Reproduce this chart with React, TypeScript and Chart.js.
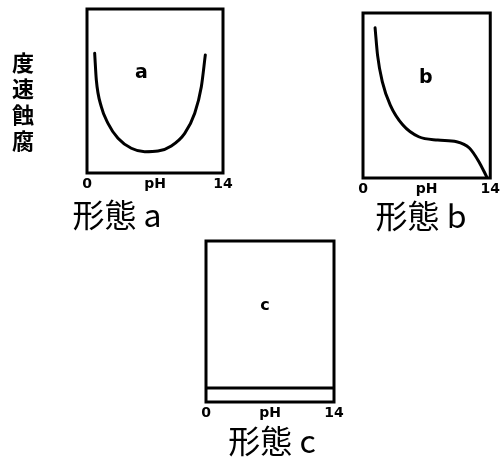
import React, { useEffect, useRef } from "react";
import { Chart, registerables } from "chart.js";
Chart.register(...registerables);

// ---- data ----
const X_TICKS = [0, 7, 14];
const X_TICK_LABELS = ["0", "pH", "14"];
const Y_TITLE = "腐蝕速度";

const A_PH = [0.79, 0.96, 1.47, 2.16, 3.19, 4.56, 5.94, 7.31, 8.68, 10.06, 11.09, 11.77, 12.18];
const A_RATE = [7.3, 5.67, 4.04, 3.03, 2.12, 1.51, 1.3, 1.34, 1.65, 2.42, 3.64, 5.26, 7.2];
const B_PH = [1.33, 1.6, 2.12, 3.0, 4.39, 6.13, 8.22, 10.3, 11.7, 12.75, 13.6];
const B_RATE = [9.1, 7.45, 5.84, 4.42, 3.21, 2.5, 2.3, 2.2, 1.82, 0.99, 0.08];
const C_PH = [0, 14];
const C_RATE = [0.87, 0.87];

const PANEL_TITLES = ["形態 a", "形態 b", "形態 c"];
const PANEL_LETTERS = ["a", "b", "c"];
const LETTER_PH = [5.6, 6.9, 6.45];
const LETTER_RATE = [6.1, 6.04, 6.0];

const SERIES_PH = [A_PH, B_PH, C_PH];
const SERIES_RATE = [A_RATE, B_RATE, C_RATE];

// ---- layout ----
type Layout = {
  left: number; top: number; w: number; h: number;
  pl: number; pr: number; pt: number; chartBottom: number;
  titleX: number; titleY: number; letterFont: string; yTitle: boolean;
};
const LAYOUTS: Layout[] = [
  { left: 0, top: 0, w: 250, h: 240, pl: 87, pr: 27, pt: 9, chartBottom: 173, titleX: 117, titleY: 215, letterFont: "bold 19px 'DejaVu Sans'", yTitle: true },
  { left: 250, top: 0, w: 253, h: 240, pl: 113, pr: 6, pt: 13, chartBottom: 178, titleX: 171, titleY: 216, letterFont: "bold 19px 'DejaVu Sans'", yTitle: false },
  { left: 180, top: 225, w: 180, h: 240, pl: 26, pr: 26, pt: 16, chartBottom: 177, titleX: 92, titleY: 216, letterFont: "bold 16px 'DejaVu Sans'", yTitle: false },
];
const TICK_SIZE = 14;
const TICK_PAD = 3;
const TITLE_FONT = "32px 'Noto Sans CJK JP'";

const framePlugin = {
  id: "frame",
  afterDatasetsDraw(chart: any, _args: any, opts: any) {
    const { ctx, chartArea } = chart;
    const { left, top, right, bottom } = chartArea;
    ctx.save();
    ctx.strokeStyle = "#000";
    ctx.lineWidth = 3;
    ctx.strokeRect(left, top, right - left, bottom - top);
    ctx.fillStyle = "#000";
    ctx.textAlign = "center";
    ctx.textBaseline = "middle";
    ctx.font = opts.letterFont;
    ctx.fillText(
      opts.letter,
      chart.scales.x.getPixelForValue(opts.lx),
      chart.scales.y.getPixelForValue(opts.ly)
    );
    ctx.font = TITLE_FONT;
    ctx.fillText(opts.title, opts.titleX, opts.titleY);
    if (opts.yTitle) {
      ctx.font = "bold 22px 'Noto Sans CJK JP'";
      const chars = Array.from(Y_TITLE as string);
      const cx = left - 64;
      const mid = (top + bottom) / 2 + 11;
      const step = 26;
      const n = chars.length;
      chars.forEach((ch, i) => {
        // bottom-to-top, upright characters
        const y = mid + ((n - 1) / 2 - i) * step;
        ctx.fillText(ch, cx, y);
      });
    }
    ctx.restore();
  },
};

function Panel({ idx }: { idx: number }) {
  const ref = useRef<HTMLCanvasElement>(null);
  const L = LAYOUTS[idx];
  useEffect(() => {
    const axisH = TICK_PAD * 2 + TICK_SIZE * 1.2;
    const padBottom = L.h - L.chartBottom - axisH;
    const data = SERIES_PH[idx].map((x, i) => ({ x, y: SERIES_RATE[idx][i] }));
    const chart = new Chart(ref.current as HTMLCanvasElement, {
      type: "line",
      data: {
        datasets: [
          {
            data,
            borderColor: "#000",
            borderWidth: 3,
            pointRadius: 0,
            cubicInterpolationMode: "monotone",
            borderCapStyle: "round",
            fill: false,
          } as any,
        ],
      },
      options: {
        animation: false,
        responsive: false,
        devicePixelRatio: 1,
        layout: {
          autoPadding: false,
          padding: { left: L.pl, right: L.pr, top: L.pt, bottom: padBottom },
        } as any,
        plugins: {
          legend: { display: false },
          tooltip: { enabled: false },
          frame: {
            letter: PANEL_LETTERS[idx],
            lx: LETTER_PH[idx],
            ly: LETTER_RATE[idx],
            letterFont: L.letterFont,
            yTitle: L.yTitle,
            title: PANEL_TITLES[idx],
            titleX: L.titleX,
            titleY: L.titleY,
          },
        } as any,
        scales: {
          x: {
            type: "linear",
            min: 0,
            max: 14,
            grid: { display: false, drawTicks: false },
            border: { display: false },
            afterBuildTicks: (s: any) => {
              s.ticks = X_TICKS.map((v) => ({ value: v }));
            },
            ticks: {
              padding: TICK_PAD,
              color: "#000",
              maxRotation: 0,
              autoSkip: false,
              font: { family: "'DejaVu Sans'", size: TICK_SIZE, weight: "bold" },
              callback: (v: any) => {
                const k = X_TICKS.indexOf(Number(v));
                return k >= 0 ? X_TICK_LABELS[k] : "";
              },
            },
          },
          y: {
            display: false,
            min: 0,
            max: 10,
          },
        },
      },
      plugins: [framePlugin as any],
    });
    return () => chart.destroy();
  }, []);
  return (
    <div style={{ position: "absolute", left: L.left, top: L.top, width: L.w, height: L.h }}>
      <canvas ref={ref} width={L.w} height={L.h} style={{ width: L.w, height: L.h, display: "block" }} />
    </div>
  );
}

export default function App() {
  return (
    <div style={{ position: "absolute", left: 0, top: 0, width: 503, height: 465, background: "#fff", overflow: "hidden" }}>
      <Panel idx={0} />
      <Panel idx={1} />
      <Panel idx={2} />
    </div>
  );
}
